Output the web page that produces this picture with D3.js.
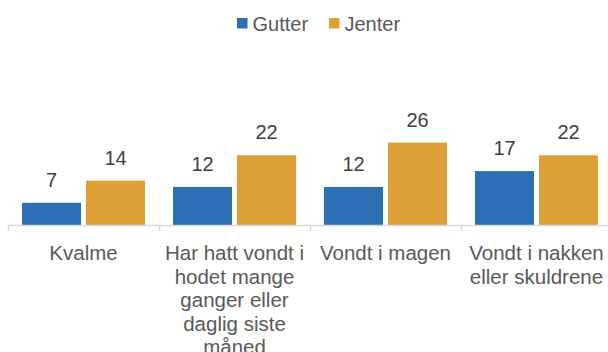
<!DOCTYPE html>
<html>
<head>
<meta charset="utf-8">
<script src="https://cdn.jsdelivr.net/npm/d3@7"></script>
<style>
  html, body { margin: 0; padding: 0; background: #fff; }
  svg { display: block; font-family: "Liberation Sans", Arial, sans-serif; }
</style>
</head>
<body>
<svg id="chart" width="608" height="352"></svg>
<script>
// Category labels, already broken into lines
const categories = [
  ["Kvalme"],
  ["Har hatt vondt i", "hodet mange", "ganger eller", "daglig siste", "måned"],
  ["Vondt i magen"],
  ["Vondt i nakken", "eller skuldrene"]
];
const seriesNames = ["Gutter", "Jenter"];
const gutter = [7, 12, 12, 17];
const jenter = [14, 22, 26, 22];
const colors = ["#2d6fb5", "#df9f37"];

const svg = d3.select("#chart");
const baseY = 225;

// Category bands: each 151 px, starting at x = 8 (last band runs off the right edge)
const x = d3.scaleBand()
  .domain(d3.range(categories.length))
  .range([8, 8 + 151 * categories.length])
  .paddingInner(0).paddingOuter(0);

const xSeries = d3.scaleBand()
  .domain(seriesNames)
  .range([14, x.bandwidth() - 14])
  .paddingInner(5 / 64);

const y = d3.scaleLinear().domain([0, 30]).range([baseY, baseY - 30 * 3.17]);

const values = [gutter, jenter];
const rows = [];
categories.forEach((c, i) => {
  seriesNames.forEach((s, k) => rows.push({ cat: i, series: s, k, v: values[k][i] }));
});

// Bars
svg.append("g").selectAll("rect").data(rows).join("rect")
  .attr("x", d => x(d.cat) + xSeries(d.series))
  .attr("y", d => y(d.v))
  .attr("width", xSeries.bandwidth())
  .attr("height", d => baseY - y(d.v))
  .attr("fill", d => colors[d.k]);

// Value labels above bars
svg.append("g").selectAll("text").data(rows).join("text")
  .attr("x", d => x(d.cat) + xSeries(d.series) + xSeries.bandwidth() / 2)
  .attr("y", d => y(d.v) - 16)
  .attr("text-anchor", "middle")
  .attr("font-size", 20)
  .attr("fill", "#404040")
  .text(d => d.v);

// Category axis: baseline with ticks between categories
const axis = svg.append("g");
axis.append("line")
  .attr("x1", x.range()[0]).attr("x2", 608)
  .attr("y1", baseY + 0.5).attr("y2", baseY + 0.5)
  .attr("stroke", "#d9d9d9").attr("stroke-width", 1.5);
axis.selectAll("line.tick").data(d3.range(categories.length + 1)).join("line")
  .attr("class", "tick")
  .attr("x1", i => 8 + 151 * i + 0.5).attr("x2", i => 8 + 151 * i + 0.5)
  .attr("y1", baseY).attr("y2", baseY + 6)
  .attr("stroke", "#d9d9d9").attr("stroke-width", 1.5);

const labels = axis.selectAll("text.cat").data(categories).join("text")
  .attr("class", "cat")
  .attr("text-anchor", "middle")
  .attr("font-size", 20.5)
  .attr("fill", "#595959");
labels.each(function (lines, i) {
  d3.select(this).selectAll("tspan").data(lines).join("tspan")
    .attr("x", x(i) + x.bandwidth() / 2)
    .attr("y", (d, j) => 260 + j * 23.6)
    .text(d => d);
});

// Legend
const legendItems = [
  { name: seriesNames[0], color: colors[0], x: 237 },
  { name: seriesNames[1], color: colors[1], x: 329 }
];
const lg = svg.append("g").selectAll("g").data(legendItems).join("g")
  .attr("transform", d => `translate(${d.x},0)`);
lg.append("rect").attr("x", 0).attr("y", 18).attr("width", 10.5).attr("height", 10.5)
  .attr("fill", d => d.color);
lg.append("text").attr("x", 15.5).attr("y", 31).attr("font-size", 20)
  .attr("fill", "#595959").text(d => d.name);
</script>
</body>
</html>
